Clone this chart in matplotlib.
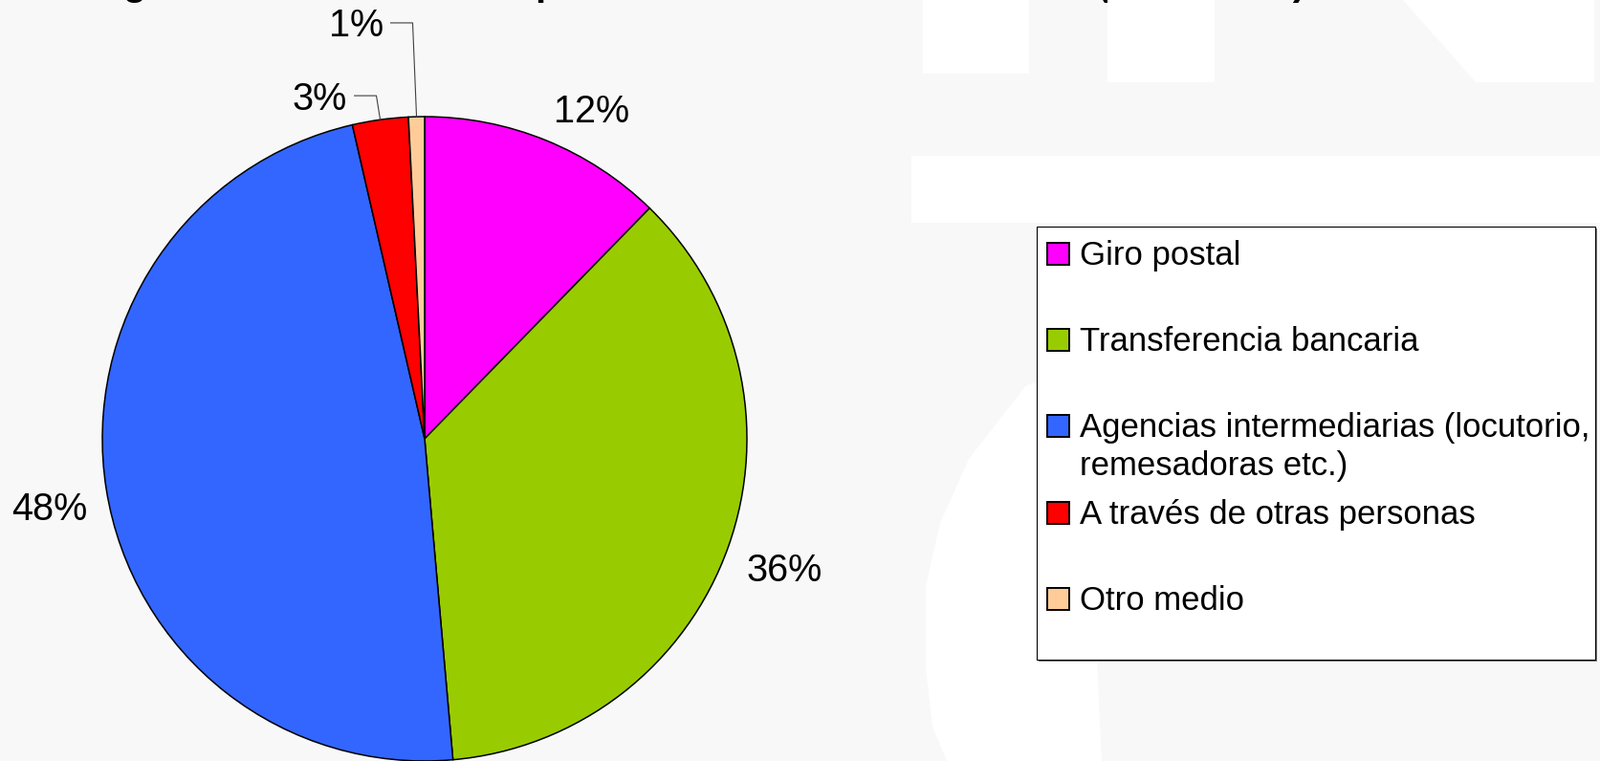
import numpy as np
import matplotlib.pyplot as plt
from matplotlib.patches import Rectangle, Polygon

# data
categories = ['Giro postal', 'Transferencia bancaria',
              'Agencias intermediarias (locutorio,\nremesadoras etc.)',
              'A través de otras personas', 'Otro medio']
shares = [12.3, 36.3, 47.8, 2.8, 0.8]
colors = ['#ff00ff', '#99cc00', '#3366ff', '#ff0000', '#ffcc99']
title = 'Según el medio utilizado para enviar dinero a su familia (2006-2007)'

W, H = 1673, 796
BG = '#f8f8f8'
plt.rcParams['font.family'] = ['Liberation Sans', 'DejaVu Sans']

fig = plt.figure(figsize=(W / 100, H / 100), dpi=100, facecolor=BG)


def fx(x):
    return x / W


def fy(y):
    return 1 - y / H


# pie: centre at (444, 459) px, radius 337 px
R = 337
cx, cy = 444, 459
ax = fig.add_axes([0, 0, 1, 1])
wedges, _ = ax.pie(shares, colors=colors, startangle=90, counterclock=False,
                   wedgeprops=dict(edgecolor='black', linewidth=1.1))
ax.set_xlim(-cx / R, (W - cx) / R)
ax.set_ylim(-(H - cy) / R, cy / R)
ax.set_aspect('auto')
ax.axis('off')

# percentage labels: box corner sits on the mid-angle ray
cap = 0.086  # cap height of the label font, in radius units
levels = iter([1.065, 1.291])
for w, v in zip(wedges, shares):
    mid = np.deg2rad((w.theta1 + w.theta2) / 2)
    ex, ey = np.cos(mid), np.sin(mid)
    lab = f'{v:.0f}%'
    if v >= 5:
        px, py = 1.06 * ex, 1.06 * ey
        ha = 'left' if ex >= 0 else 'right'
        base = py if ey >= 0 else py - cap
        ax.text(px, base, lab, ha=ha, va='baseline', fontsize=28.5)
    else:
        lvl = next(levels)
        kx = ex - 0.012
        ax.plot([ex, kx, kx - 0.068], [ey, lvl, lvl], color='#404040', lw=0.8)
        ax.text(kx - 0.09, lvl - 0.043, lab, ha='right', va='baseline',
                fontsize=28.5)

# title, mostly outside the top edge
fig.text(fx(80), fy(-5), title, fontsize=28.8, fontweight='bold',
         ha='left', va='baseline', zorder=0.5)


# white patches of the slide background
def rect(x0, y0, x1, y1, **kw):
    return Rectangle((fx(x0), fy(y1)), (x1 - x0) / W, (y1 - y0) / H,
                     transform=fig.transFigure, **kw)


def poly(pts, **kw):
    return Polygon([(fx(x), fy(y)) for x, y in pts], closed=True,
                   transform=fig.transFigure, **kw)


white = dict(facecolor='white', edgecolor='none', zorder=1)
fig.patches.append(rect(965, 0, 1076, 77, **white))
fig.patches.append(rect(1158, 0, 1270, 86, **white))
fig.patches.append(poly([(1467, 0), (1667, 0), (1667, 86), (1543, 86)], **white))
fig.patches.append(rect(953, 163, 1673, 233, **white))
fig.patches.append(poly([(1084, 400), (1073, 403), (1013, 480), (983, 547),
                         (968, 613), (968, 700), (975, 760), (990, 796),
                         (1152, 796), (1147, 690), (1084, 690)], **white))

# legend
fig.patches.append(rect(1086, 239, 1670, 692, facecolor='#808080',
                        edgecolor='none', zorder=2))
fig.patches.append(rect(1084, 237, 1668, 690, facecolor='white',
                        edgecolor='black', linewidth=0.8, zorder=2.1))
baselines = [277, 367, 457, 548, 638]
for cat, col, base in zip(categories, colors, baselines):
    fig.patches.append(rect(1095, base - 23, 1118, base, facecolor=col,
                            edgecolor='black', linewidth=1.4, zorder=2.2))
    for i, line in enumerate(cat.split('\n')):
        fig.text(fx(1129), fy(base + 40 * i), line, fontsize=25, ha='left',
                 va='baseline', zorder=2.3)

fig.savefig('out.png', dpi=100, facecolor=BG)
